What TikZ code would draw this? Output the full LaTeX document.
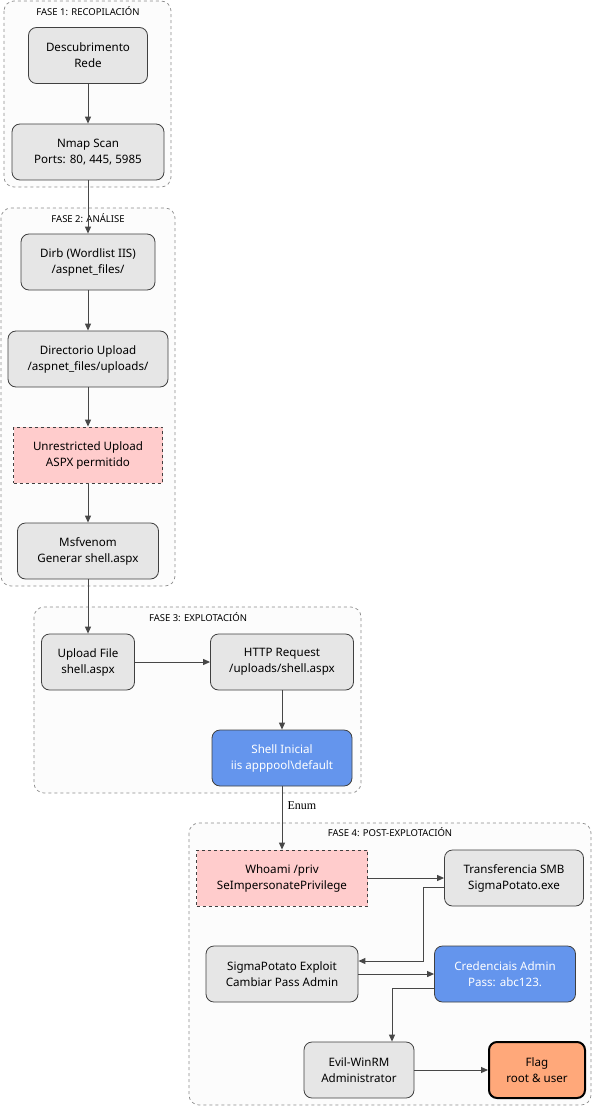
\documentclass[tikz,border=0pt]{standalone}
\usepackage{fontspec}
\setmainfont{Noto Sans}
\newfontfamily\enumfont{Liberation Serif}
\usetikzlibrary{arrows.meta,positioning}
\definecolor{boxgray}{HTML}{E6E6E6}
\definecolor{vulnpink}{HTML}{FFCCCC}
\definecolor{shellblue}{HTML}{6495ED}
\definecolor{flagorange}{HTML}{FFA87A}

\begin{document}
\begin{tikzpicture}[x=1pt,y=-1pt,
  box/.style={draw=black!75, fill=boxgray, line width=0.8pt, rounded corners=8pt,
    minimum height=56pt, align=center, inner sep=2pt,
    font=\fontsize{11.6}{16}\selectfont},
  vuln/.style={box, rounded corners=0pt, dashed, fill=vulnpink},
  access/.style={box, fill=shellblue, text=white},
  goal/.style={box, fill=flagorange, draw=black, line width=2pt},
  phase/.style={draw=black!45, dashed, fill=black!1, line width=0.7pt, rounded corners=10pt},
  phasetitle/.style={font=\fontsize{9.5}{11}\selectfont, inner sep=0pt},
  flow/.style={draw=black!72, line width=1pt, -{Triangle[length=7pt,width=6pt]}}]
\useasboundingbox (0,0) rectangle (593,1107);

% fases
\draw[phase] (4,1) rectangle (171,187);
\node[phasetitle] (t1) at (88,11) {FASE 1: RECOPILACIÓN};
\draw[phase] (1,208) rectangle (175,586);
\node[phasetitle] (t2) at (88,218) {FASE 2: ANÁLISE};
\draw[phase] (34,607) rectangle (361,793);
\node[phasetitle] (t3) at (198,617) {FASE 3: EXPLOTACIÓN};
\draw[phase] (189,823) rectangle (591,1105);
\node[phasetitle] (t4) at (390,832) {FASE 4: POST-EXPLOTACIÓN};

% nodos
\node[box, minimum width=119pt] (desc) at (88,55.5) {Descubrimento\\Rede};
\node[box, minimum width=152pt] (nmap) at (88,152) {Nmap Scan\\Ports: 80, 445, 5985};
\node[box, minimum width=134pt] (dirb) at (88,262) {Dirb (Wordlist IIS)\\/aspnet\_files/};
\node[box, minimum width=160pt] (dir) at (88,359) {Directorio Upload\\/aspnet\_files/uploads/};
\node[vuln, minimum width=149pt] (unres) at (88,455) {Unrestricted Upload\\ASPX permitido};
\node[box, minimum width=141pt] (msf) at (88,551) {Msfvenom\\Generar shell.aspx};
\node[box, minimum width=93pt] (upload) at (88,662) {Upload File\\shell.aspx};
\node[box, minimum width=143pt] (http) at (282,662) {HTTP Request\\/uploads/shell.aspx};
\node[access, minimum width=140pt] (shell) at (282,758) {Shell Inicial\\iis apppool\textbackslash default};
\node[vuln, minimum width=171pt] (whoami) at (282,878) {Whoami /priv\\SeImpersonatePrivilege};
\node[box, minimum width=139pt] (smb) at (514,878) {Transferencia SMB\\SigmaPotato.exe};
\node[box, minimum width=152pt] (sigma) at (282,974) {SigmaPotato Exploit\\Cambiar Pass Admin};
\node[access, minimum width=141pt] (cred) at (505,974) {Credenciais Admin\\Pass: abc123.};
\node[box, minimum width=110pt] (evil) at (359,1070) {Evil-WinRM\\Administrator};
\node[goal, minimum width=96pt] (flag) at (537,1070) {Flag\\root \& user};

% conexions
\draw[flow] (desc) -- (nmap);
\draw[flow] (nmap) -- (dirb);
\draw[flow] (dirb) -- (dir);
\draw[flow] (dir) -- (unres);
\draw[flow] (unres) -- (msf);
\draw[flow] (msf) -- (upload);
\draw[flow] (upload) -- (http);
\draw[flow] (http) -- (shell);
\draw[flow] (shell) -- node[right, pos=0.31, inner sep=5pt, font=\enumfont\fontsize{12}{14}\selectfont] (enum) {Enum} (whoami);
\draw[flow] (whoami) -- (smb);
\draw[flow] ([yshift=-9pt]smb.west) -- ++(-21,0) |- ([yshift=13pt]sigma.east);
\draw[flow] (sigma.east) -- (cred.west);
\draw[flow] ([yshift=-14pt]cred.west) -| ([xshift=33pt]evil.north);
\draw[flow] (evil) -- (flag);
\end{tikzpicture}
\end{document}
